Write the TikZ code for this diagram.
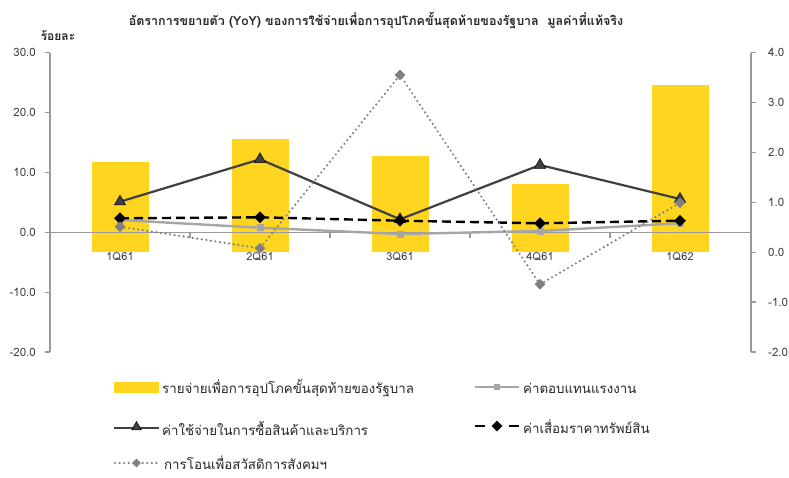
\documentclass[tikz,border=0pt]{standalone}
\usepackage{fontspec}
\setmainfont[Script=Thai]{Loma}
\usetikzlibrary{shapes.geometric}
\definecolor{baryellow}{HTML}{FFD520}
\definecolor{darkline}{HTML}{404040}
\definecolor{lightline}{HTML}{A6A6A6}
\definecolor{dotline}{HTML}{808080}
\definecolor{axisgray}{HTML}{9A9A9A}
\definecolor{txtgray}{HTML}{404040}
\begin{document}
\begin{tikzpicture}[x=1pt,y=-1pt,
  axisline/.style={draw=axisgray,line width=1.1pt},
  ticklabel/.style={text=txtgray,font=\fontsize{11.5}{12}\selectfont,inner sep=0pt},
  catlabel/.style={text=txtgray,font=\fontsize{11}{12}\selectfont,inner sep=0pt},
  legtext/.style={text=black!85,font=\fontsize{13.3}{14}\selectfont,anchor=west,inner sep=0pt},
  bar/.style={fill=baryellow,draw=none},
  sergray/.style={draw=lightline,line width=2.4pt},
  serdark/.style={draw=darkline,line width=2.2pt},
  serdash/.style={draw=black,line width=2.4pt,dash pattern=on 9pt off 5pt},
  serdot/.style={draw=dotline,line width=2.4pt,line cap=round,dash pattern=on 0pt off 4.6pt},
  sqmark/.style={rectangle,fill=lightline,minimum size=7pt,inner sep=0pt},
  trimark/.style={regular polygon,regular polygon sides=3,fill=darkline,draw=black,line width=0.5pt,minimum size=13pt,inner sep=0pt},
  dmmark/.style={diamond,fill=black,minimum size=12pt,inner sep=0pt},
  dotmark/.style={diamond,fill=dotline,minimum size=11pt,inner sep=0pt}
]
\useasboundingbox (0,0) rectangle (789,477);
\fill[white] (0,0) rectangle (789,477);

% title
\node[font=\bfseries\fontsize{12.5}{14}\selectfont,text=black!85] (title) at (376,21) {อัตราการขยายตัว (YoY) ของการใช้จ่ายเพื่อการอุปโภคขั้นสุดท้ายของรัฐบาล\ \ มูลค่าที่แท้จริง};
\node[font=\bfseries\fontsize{12}{13}\selectfont,text=black!85] (unit) at (58,36) {ร้อยละ};

% bars
\foreach \i/\t in {1/161.7,2/139,3/155.7,4/184,5/85}{
  \path[bar] ({120+140*(\i-1)-28.5},\t) rectangle ({120+140*(\i-1)+28.5},252);
}

% axes
\coordinate (lt) at (50,52.5); \coordinate (lb) at (50,352);
\coordinate (rt) at (751,52.5); \coordinate (rb) at (751,352);
\coordinate (x0) at (50,232.2); \coordinate (x1) at (751,232.2);
\draw[axisline] (lt) -- (lb);
\draw[axisline] (rt) -- (rb);
\draw[axisline] (x0) -- (x1);
\foreach \v/\y in {30.0/52.5,20.0/112.4,10.0/172.3,0.0/232.2,-10.0/292.1,-20.0/352}{
  \draw[axisline] (45,\y) -- (50,\y);
  \node[ticklabel,anchor=east] at (36,\y) {\v};
}
\foreach \v/\y in {4.0/52.5,3.0/102.4,2.0/152.3,1.0/202.2,0.0/252.1,-1.0/302,-2.0/352}{
  \draw[axisline] (751,\y) -- (756,\y);
  \node[ticklabel,anchor=west] at (768,\y) {\v};
}
\foreach \x in {190,330,470,610}{
  \draw[axisline] (\x,232.2) -- (\x,238);
}
\foreach \i/\c in {1/1Q61,2/2Q61,3/3Q61,4/4Q61,5/1Q62}{
  \node[catlabel] (cat\i) at ({120+140*(\i-1)},257) {\c};
}

% data coordinates
\foreach \i/\g/\d/\k/\o in {1/220/201.7/218.3/226.7,2/227.7/159.3/217.3/248.3,3/234/219.3/220.7/75,4/231/165/223.3/284.3,5/223.3/199/220.7/202.7}{
  \coordinate (g\i) at ({120+140*(\i-1)},\g);
  \coordinate (d\i) at ({120+140*(\i-1)},\d);
  \coordinate (k\i) at ({120+140*(\i-1)},\k);
  \coordinate (o\i) at ({120+140*(\i-1)},\o);
}
% gray square series
\draw[sergray] (g1) -- (g2) -- (g3) -- (g4) -- (g5);
\foreach \i in {1,...,5}{\node[sqmark] at (g\i) {};}
% dark triangle series
\draw[serdark] (d1) -- (d2) -- (d3) -- (d4) -- (d5);
\foreach \i in {1,...,5}{\node[trimark] at (d\i) {};}
% dashed diamond series
\draw[serdash] (k1) -- (k2) -- (k3) -- (k4) -- (k5);
\foreach \i in {1,...,5}{\node[dmmark] at (k\i) {};}
% dotted diamond series
\draw[serdot] (o1) -- (o2) -- (o3) -- (o4) -- (o5);
\foreach \i in {1,...,5}{\node[dotmark] at (o\i) {};}

% legend
\path[bar] (114,382) rectangle (159,393);
\node[legtext] (l1) at (162,388) {รายจ่ายเพื่อการอุปโภคขั้นสุดท้ายของรัฐบาล};
\coordinate (la2) at (114,428); \coordinate (lb2) at (159,428);
\draw[serdark] (la2) -- (lb2);
\node[trimark,minimum size=11pt] at (136.5,427) {};
\node[legtext] (l2) at (162,428) {ค่าใช้จ่ายในการซื้อสินค้าและบริการ};
\coordinate (la3) at (115,463); \coordinate (lb3) at (159,463);
\draw[serdot] (la3) -- (lb3);
\node[dotmark,minimum size=9pt] at (136.5,463) {};
\node[legtext] (l3) at (164,463) {การโอนเพื่อสวัสดิการสังคมฯ};

\coordinate (ra1) at (475,387); \coordinate (rb1) at (519,387);
\draw[sergray] (ra1) -- (rb1);
\node[sqmark,minimum size=6pt] at (497,387) {};
\node[legtext] (r1) at (523,388) {ค่าตอบแทนแรงงาน};
\coordinate (ra2) at (475,426); \coordinate (rb2) at (485,426);
\coordinate (rc2) at (509,426); \coordinate (rd2) at (519,426);
\draw[draw=black,line width=2.4pt] (ra2) -- (rb2);
\draw[draw=black,line width=2.4pt] (rc2) -- (rd2);
\node[dmmark,minimum size=11pt] at (497,426) {};
\node[legtext] (r2) at (523,427) {ค่าเสื่อมราคาทรัพย์สิน};
\end{tikzpicture}
\end{document}
